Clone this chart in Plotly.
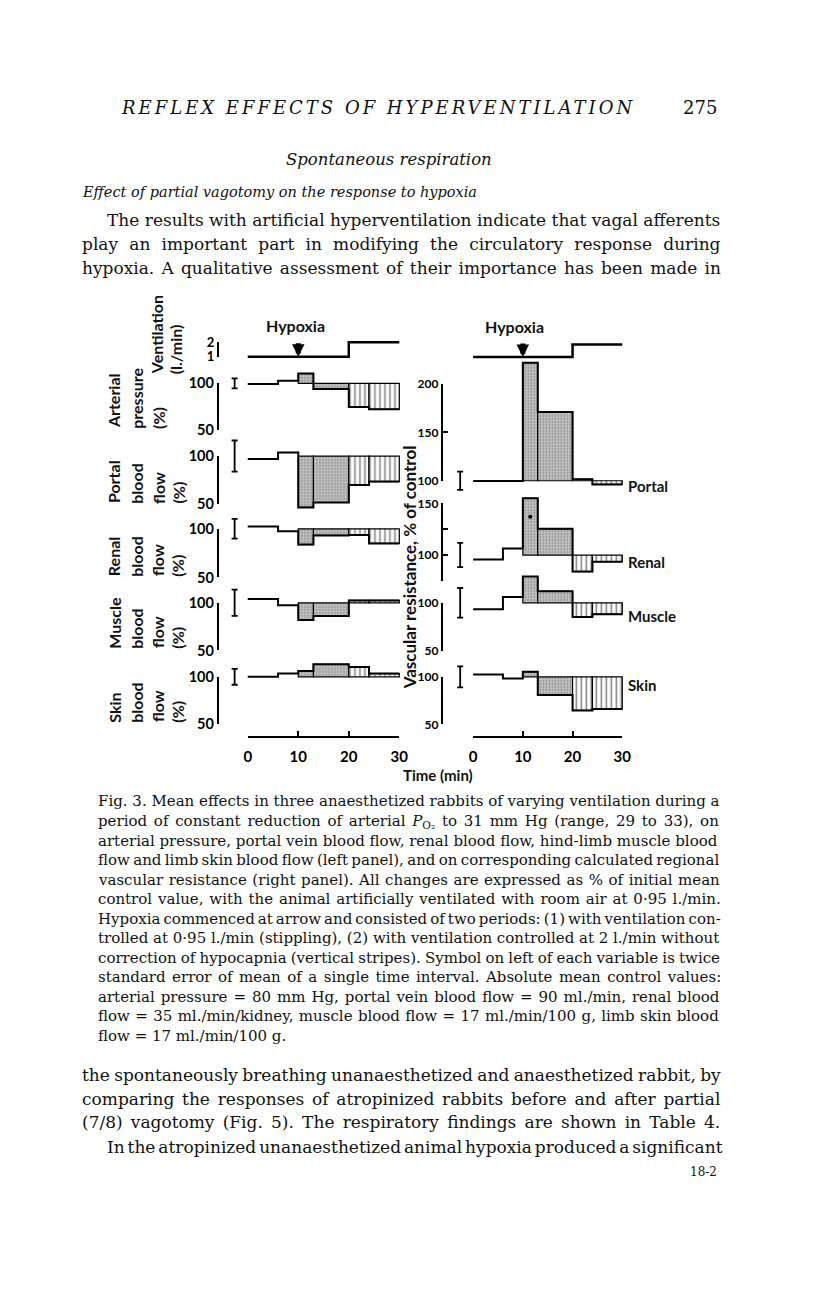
import plotly.graph_objects as go

W, H = 816, 1296

# time intervals (min); hypoxia from 10 min
t_edges = [0, 6, 10, 13, 20, 24, 30]
phase = ['control', 'control', 'stippled', 'stippled', 'striped', 'striped']

# ventilation (l./min)
vent = [1, 1, 1, 1, 2, 2]

# left panel, % of initial control
arterial_pressure = [99.3, 102.8, 110.5, 94.0, 74.7, 72.2]
portal_flow = [96.9, 103.8, 46.6, 51.7, 70.0, 73.5]
renal_flow = [102.4, 97.6, 83.8, 93.2, 93.5, 85.0]
muscle_flow = [104.0, 97.4, 82.0, 86.2, 102.5, 102.5]
skin_flow = [100.0, 103.5, 106.3, 113.4, 110.6, 103.5]

# right panel, vascular resistance % of control
portal_res = [99.7, 99.7, 222.0, 171.0, 101.5, 96.2]
renal_res = [95.8, 106.3, 155.0, 125.4, 84.0, 93.6]
muscle_res = [93.3, 106.1, 127.2, 111.9, 85.4, 88.2]
skin_res = [102.5, 98.3, 105.2, 81.0, 64.8, 66.2]

# twice s.e. of mean of a single interval
se2_flow = [5.3, 16.2, 10.1, 13.8, 8.5]
se2_res = [9.4, 11.8, 15.3, 11.0]

# significant point (renal resistance)
sig_t = [11.5]
sig_res = [137]

time_ticks = [0, 10, 20, 30]


def fx(p):
    return p / W


def fy(p):
    return 1 - p / H


LAB = 'Lato'
SERIF = 'DejaVu Serif'

layout_axes = {}
traces = []
ny = [0]


def new_yaxis(**kw):
    ny[0] += 1
    n = ny[0]
    layout_axes['yaxis' if n == 1 else f'yaxis{n}'] = kw
    return 'y' if n == 1 else f'y{n}'


def data_axis(xa, p_ref, v_ref, k, top, bot):
    return new_yaxis(domain=[fy(bot), fy(top)],
                     range=[v_ref - (bot - p_ref) / k, v_ref + (p_ref - top) / k],
                     anchor=xa, visible=False, fixedrange=True)


def bracket_axis(xa, x_px, p_ref, v_ref, k, lo, hi, tickvals, ticktext, size):
    p_lo = p_ref + (v_ref - lo) * k
    p_hi = p_ref - (hi - v_ref) * k
    ya = new_yaxis(domain=[fy(p_lo), fy(p_hi)], range=[lo, hi], anchor='free',
                   position=fx(x_px), showline=True, linecolor='black', linewidth=2,
                   ticks='inside', ticklen=5, tickwidth=2, tickcolor='black',
                   tickvals=tickvals, ticktext=ticktext, showgrid=False, zeroline=False,
                   tickfont=dict(family=LAB, size=size, color='black', weight='bold'))
    traces.append(go.Scatter(x=[None], y=[None], xaxis=xa, yaxis=ya, showlegend=False))
    return ya


def step_row(vals, xa, ya, width=2):
    traces.append(go.Scatter(x=t_edges, y=vals + [vals[-1]], mode='lines', line_shape='hv',
                             line=dict(color='black', width=width), xaxis=xa, yaxis=ya,
                             showlegend=False))


def interval_bars(vals, xa, ya):
    for kind in ['stippled', 'striped']:
        idx = [i for i, p in enumerate(phase) if p == kind]
        xs = [(t_edges[i] + t_edges[i + 1]) / 2 for i in idx]
        ws = [t_edges[i + 1] - t_edges[i] for i in idx]
        ys = [vals[i] - 100 for i in idx]
        if kind == 'stippled':
            mk = dict(color='#c8c8c8', line=dict(color='black', width=1.2),
                      pattern=dict(shape='.', fgcolor='#3a3a3a', size=3, solidity=0.3,
                                   fillmode='overlay'))
        else:
            mk = dict(color='white', line=dict(color='black', width=1.2),
                      pattern=dict(shape='|', fgcolor='black', size=5, solidity=0.3,
                                   fillmode='overlay'))
        traces.append(go.Bar(x=xs, y=ys, base=[100] * len(idx), width=ws, marker=mk,
                             xaxis=xa, yaxis=ya, showlegend=False))


def err_symbol(se, xa, ya):
    traces.append(go.Scatter(x=[-2.6], y=[100], mode='markers',
                             marker=dict(size=1, color='rgba(0,0,0,0)'),
                             error_y=dict(type='data', array=[se], color='black',
                                          thickness=1.8, width=3),
                             xaxis=xa, yaxis=ya, showlegend=False))


# x scales (pixel positions of 0 and 30 min)
LX0, LX30 = 247.7, 401.7
RX0, RX30 = 476.7, 628.3
lk = (LX30 - LX0) / 30
rk = (RX30 - RX0) / 30
layout_axes['xaxis'] = dict(domain=[fx(222), fx(410)], range=[(222 - LX0) / lk, (410 - LX0) / lk],
                            visible=False, fixedrange=True)
layout_axes['xaxis2'] = dict(domain=[fx(452), fx(640)], range=[(452 - RX0) / rk, (640 - RX0) / rk],
                             visible=False, fixedrange=True)

# ---- left panel rows
LB = 217.3
y_vl = data_axis('x', 352.3, 1, 14.6, 330, 362)
bracket_axis('x', LB, 352.3, 1, 14.6, 1, 2, [1, 2], ['1', '2'], 13)
step_row(vent, 'x', y_vl, 2.5)

left_rows = [
    (arterial_pressure, 379.3, 0.948, 360, 420),
    (portal_flow, 453.0, 0.974, 425, 512),
    (renal_flow, 526.7, 0.986, 505, 550),
    (muscle_flow, 601.7, 0.966, 580, 625),
    (skin_flow, 676.7, 0.946, 655, 690),
]
for (vals, p100, k, top, bot), se in zip(left_rows, se2_flow):
    ya = data_axis('x', p100, 100, k, top, bot)
    bracket_axis('x', LB, p100, 100, k, 50, 100, [50, 100], ['50', '100'], 14.5)
    interval_bars(vals, 'x', ya)
    step_row(vals, 'x', ya)
    err_symbol(se, 'x', ya)

# ---- right panel rows
RB = 445
y_vr = data_axis('x2', 352.7, 1, 12.7, 332, 362)
step_row(vent, 'x2', y_vr, 2.5)

right_rows = [
    (portal_res, 478.0, 0.98, 350, 492, (100, 200), [100, 150, 200], ['100', '150', '200']),
    (renal_res, 553.3, 1.046, 488, 575, (75, 150), [75, 100, 125, 150], ['', '100', '', '150']),
    (muscle_res, 601.7, 0.98, 570, 625, (50, 100), [50, 100], ['50', '100']),
    (skin_res, 676.7, 0.966, 655, 720, (50, 100), [50, 100], ['50', '100']),
]
right_ax = []
for (vals, p100, k, top, bot, (lo, hi), tv, tt), se in zip(right_rows, se2_res):
    ya = data_axis('x2', p100, 100, k, top, bot)
    right_ax.append(ya)
    bracket_axis('x2', RB, p100, 100, k, lo, hi, tv, tt, 12)
    interval_bars(vals, 'x2', ya)
    step_row(vals, 'x2', ya)
    err_symbol(se, 'x2', ya)

traces.append(go.Scatter(x=sig_t, y=sig_res, mode='markers', marker=dict(color='black', size=4),
                         xaxis='x2', yaxis=right_ax[1], showlegend=False))

# ---- time axes
for name, x0, x1 in [('xaxis3', LX0, LX30), ('xaxis4', RX0, RX30)]:
    layout_axes[name] = dict(domain=[fx(x0), fx(x1)], range=[0, 30], anchor='free',
                             position=fy(737.7), showline=True, linecolor='black', linewidth=2,
                             ticks='inside', ticklen=5, tickwidth=2, tickcolor='black',
                             tickvals=time_ticks, showgrid=False, zeroline=False,
                             ticklabelstandoff=6,
                             tickfont=dict(family=LAB, size=15, color='black', weight='bold'))
traces.append(go.Scatter(x=[None], y=[None], xaxis='x3', yaxis=y_vl, showlegend=False))
traces.append(go.Scatter(x=[None], y=[None], xaxis='x4', yaxis=y_vr, showlegend=False))

fig = go.Figure(traces)

ann = []


def txt(x, y, s, size, family=SERIF, xanchor='left', yanchor='middle', angle=0, bold=False,
        ws=0):
    if ws:
        s = f'<span style="word-spacing:{ws}px">{s}</span>'
    ann.append(dict(x=fx(x), y=fy(y), xref='paper', yref='paper', text=s, showarrow=False,
                    xanchor=xanchor, yanchor=yanchor, textangle=angle,
                    font=dict(family=family, size=size, color='#111111',
                              weight='bold' if bold else 'normal')))


# arrows marking start of hypoxia
for xa, ya in [('x', y_vl), ('x2', y_vr)]:
    ann.append(dict(x=10, y=1, xref=xa, yref=ya, text='', showarrow=True, ax=0, ay=-15,
                    arrowhead=2, arrowwidth=5, arrowsize=0.5, arrowcolor='black', standoff=0))

txt(296, 321, 'Hypoxia', 16, LAB, 'center', bold=True)
txt(519, 322, 'Hypoxia', 16, LAB, 'center', bold=True)

# rotated row labels, left panel
row_labels = [
    (372, [(155, 'Ventilation'), (174, '(l./min)')]),
    (427, [(112, 'Arterial'), (135, 'pressure'), (157, '(%)')]),
    (503, [(112, 'Portal'), (135, 'blood'), (157, 'flow'), (177, '(%)')]),
    (577, [(112, 'Renal'), (135, 'blood'), (156, 'flow'), (176, '(%)')]),
    (650, [(112, 'Muscle'), (135, 'blood'), (156, 'flow'), (176, '(%)')]),
    (725, [(112, 'Skin'), (135, 'blood'), (156, 'flow'), (176, '(%)')]),
]
for ybot, cols in row_labels:
    for xc, s in cols:
        txt(xc, ybot, s, 16, LAB, 'center', 'bottom', -90, bold=True)

txt(412, 691, 'Vascular resistance, % of control', 17, LAB, 'center', 'bottom', -90, bold=True)

for y, s in [(483, 'Portal'), (560, 'Renal'), (615, 'Muscle'), (685, 'Skin')]:
    txt(632, y, s, 15, LAB, 'left', bold=True)

txt(441, 776, 'Time (min)', 15, LAB, 'center', bold=True)

# page text
txt(117, 100, '<i><span style="letter-spacing:3px">REFLEX EFFECTS OF HYPERVENTILATION</span></i>', 18)
txt(727, 100, '275', 18, xanchor='right')
txt(391, 152, '<i>Spontaneous respiration</i>', 16.5, xanchor='center')
txt(77, 185, '<i>Effect of partial vagotomy on the response to hypoxia</i>', 14.5)

body_top = [
    (103, 214, 'The results with artificial hyperventilation indicate that vagal afferents', 0),
    (77, 238, 'play an important part in modifying the circulatory response during', 5.8),
    (77, 262, 'hypoxia. A qualitative assessment of their importance has been made in', 1.8),
]
for x, y, s, ws in body_top:
    txt(x, y, s, 17, ws=ws)

caption = [
    'Fig. 3. Mean effects in three anaesthetized rabbits of varying ventilation during a',
    'period of constant reduction of arterial <i>P</i><sub>O₂</sub> to 31 mm Hg (range, 29 to 33), on',
    'arterial pressure, portal vein blood flow, renal blood flow, hind-limb muscle blood',
    'flow and limb skin blood flow (left panel), and on corresponding calculated regional',
    'vascular resistance (right panel). All changes are expressed as % of initial mean',
    'control value, with the animal artificially ventilated with room air at 0·95 l./min.',
    'Hypoxia commenced at arrow and consisted of two periods: (1) with ventilation con-',
    'trolled at 0·95 l./min (stippling), (2) with ventilation controlled at 2 l./min without',
    'correction of hypocapnia (vertical stripes). Symbol on left of each variable is twice',
    'standard error of mean of a single time interval. Absolute mean control values:',
    'arterial pressure = 80 mm Hg, portal vein blood flow = 90 ml./min, renal blood',
    'flow = 35 ml./min/kidney, muscle blood flow = 17 ml./min/100 g, limb skin blood',
    'flow = 17 ml./min/100 g.',
]
caption_ws = [0, 2, 0, -1.4, 0.8, 1.1, -1.7, 0, -0.6, 1.7, 1.2, 0.6, 0]
for i, (s, ws) in enumerate(zip(caption, caption_ws)):
    txt(93, 803 + i * 19.8, s, 15, ws=ws)

body_bottom = [
    (77, 1080, 'the spontaneously breathing unanaesthetized and anaesthetized rabbit, by', -1),
    (77, 1104, 'comparing the responses of atropinized rabbits before and after partial', 2.4),
    (77, 1128, '(7/8) vagotomy (Fig. 5). The respiratory findings are shown in Table 4.', 2.8),
    (103, 1153, 'In the atropinized unanaesthetized animal hypoxia produced a significant', -2.5),
]
for x, y, s, ws in body_bottom:
    txt(x, y, s, 17, ws=ws)
txt(727, 1178, '18-2', 12, xanchor='right')

fig.update_layout(
    width=W, height=H, autosize=False, margin=dict(l=0, r=0, t=0, b=0),
    paper_bgcolor='white', plot_bgcolor='rgba(0,0,0,0)', showlegend=False,
    barmode='overlay', annotations=ann, **layout_axes,
)

# drop the default page margin so the figure sits at the window's top-left corner
page_fix = (
    "document.body.style.margin='0';"
    "document.documentElement.style.overflow='hidden';"
)
fig.write_html("out.html", config={'displayModeBar': False}, post_script=page_fix)
